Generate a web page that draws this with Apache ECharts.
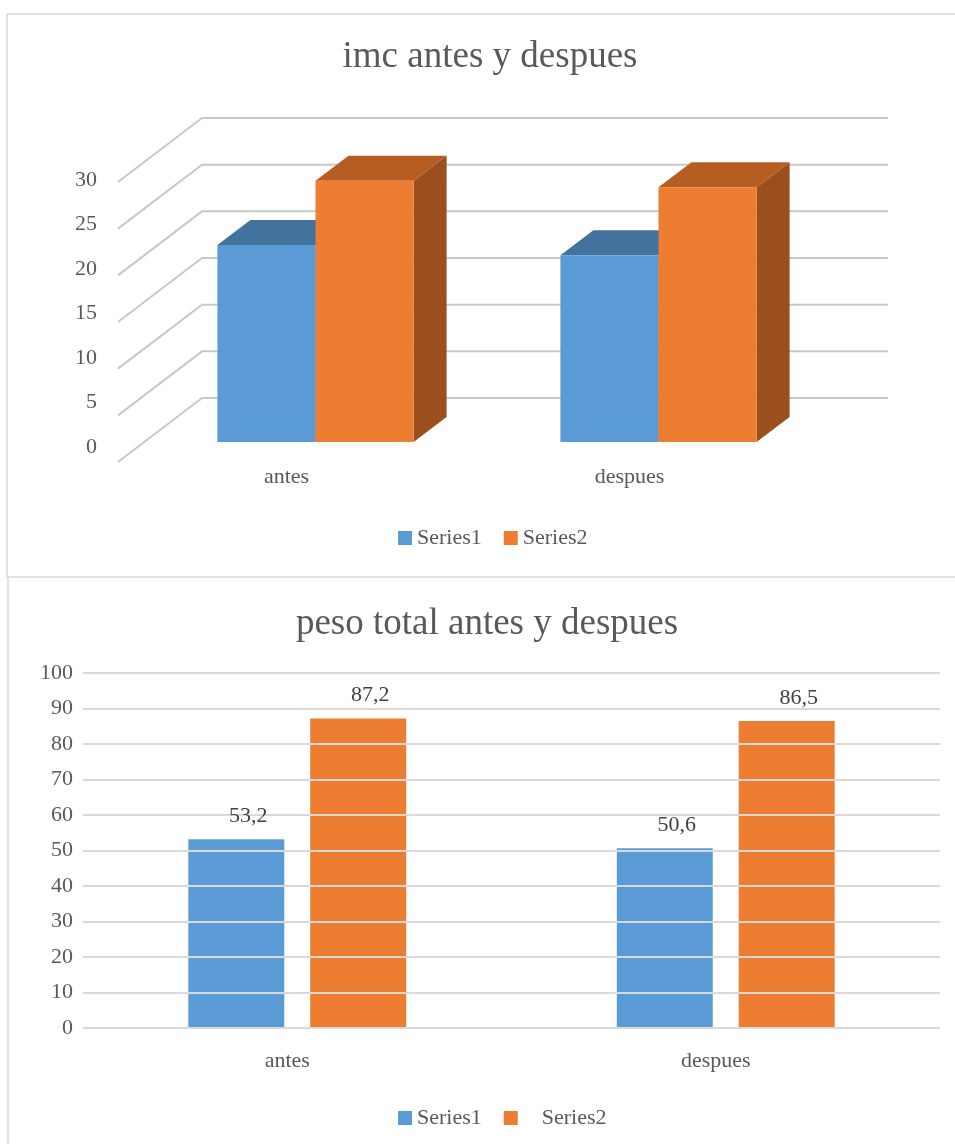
<!DOCTYPE html>
<html>
<head>
<meta charset="utf-8">
<title>imc y peso antes y despues</title>
<script src="https://cdn.jsdelivr.net/npm/echarts/dist/echarts.min.js"></script>
<style>
  html, body { margin: 0; padding: 0; background: #ffffff; }
  #imc  { position: absolute; left: 0; top: 0;     width: 955px; height: 578px; }
  #peso { position: absolute; left: 0; top: 578px; width: 955px; height: 566px; }
</style>
</head>
<body>
<div id="imc"></div>
<div id="peso"></div>
<script>
// ---- data ----
const categories = ['antes', 'despues'];
const seriesNames = ['Series1', 'Series2'];

const imcSeries1 = [21.1, 20.0];
const imcSeries2 = [28.0, 27.3];
const imcTicks = [0, 5, 10, 15, 20, 25, 30];

const pesoSeries1 = [53.2, 50.6];
const pesoSeries2 = [87.2, 86.5];
const pesoTicks = [0, 10, 20, 30, 40, 50, 60, 70, 80, 90, 100];

// ---- styling ----
const FONT = "'Liberation Serif', 'Times New Roman', serif";
const TEXT = '#595959';
const BLUE = { front: '#5B9BD5', top: '#44729F', side: '#3A6690' };
const ORANGE = { front: '#ED7D31', top: '#B65D22', side: '#9B4F1C' };

// oblique projection of the 3D column chart (pixel offsets from the bars' front plane)
const DEPTH = { dx: 33, dy: -25 };       // bar depth
const WALL_FRONT = { dx: -26, dy: 20 };  // front edge of the floor
const WALL_BACK = { dx: 58, dy: -44 };   // back wall
const BAR_FRACTION = 0.286;              // width of one bar relative to a category

// ---------- 3D IMC chart ----------
function wallItem(params, api) {
  const v = api.value(1);
  const y = api.coord([0, v])[1];
  const cs = params.coordSys;
  const x0 = cs.x, x1 = cs.x + cs.width;
  return {
    type: 'polyline',
    silent: true,
    shape: { points: [
      [x0 + WALL_FRONT.dx, y + WALL_FRONT.dy],
      [x0 + WALL_BACK.dx, y + WALL_BACK.dy],
      [x1 + WALL_BACK.dx, y + WALL_BACK.dy]
    ] },
    style: { stroke: '#c8c8c8', lineWidth: 2, fill: null }
  };
}

function boxRenderer(side, colors) {
  return function (params, api) {
    const c = api.value(0), v = api.value(1);
    const base = api.coord([c, 0]);
    const top = api.coord([c, v]);
    const w = api.size([1, 0])[0] * BAR_FRACTION;
    const xL = side < 0 ? base[0] - w : base[0];
    const xR = xL + w;
    const yB = base[1], yT = top[1];
    const d = DEPTH;
    return {
      type: 'group',
      children: [
        { type: 'polygon', shape: { points: [[xR, yT], [xR + d.dx, yT + d.dy], [xR + d.dx, yB + d.dy], [xR, yB]] },
          style: { fill: colors.side } },
        { type: 'polygon', shape: { points: [[xL, yT], [xR, yT], [xR + d.dx, yT + d.dy], [xL + d.dx, yT + d.dy]] },
          style: { fill: colors.top } },
        { type: 'rect', shape: { x: xL, y: yT, width: w, height: yB - yT },
          style: { fill: colors.front } }
      ]
    };
  };
}

// tick labels sit a little below the front plane, more so towards the top
const imcMax = imcTicks[imcTicks.length - 1];
const imcRich = {};
imcTicks.forEach(function (t, i) {
  const shift = 5 + 13 * t / imcMax;
  imcRich['t' + i] = { fontFamily: FONT, fontSize: 22, color: TEXT, padding: [2 * shift, 0, 0, 0] };
});

const imcChart = echarts.init(document.getElementById('imc'), null, { renderer: 'canvas' });
imcChart.setOption({
  animation: false,
  graphic: [{
    type: 'rect', silent: true,
    shape: { x: 7, y: 14, width: 1000, height: 563 },
    style: { fill: null, stroke: '#d9d9d9', lineWidth: 1.5 }
  }],
  title: {
    text: 'imc antes y despues',
    left: 485, top: 34, textAlign: 'center',
    textStyle: { fontFamily: FONT, fontSize: 37, fontWeight: 'normal', color: TEXT }
  },
  legend: {
    data: seriesNames, left: 393, top: 522, icon: 'rect',
    itemWidth: 14, itemHeight: 14, itemGap: 22, selectedMode: false,
    textStyle: { fontFamily: FONT, fontSize: 22, color: TEXT }
  },
  grid: { left: 144, right: 125, top: 162, bottom: 136 },
  xAxis: {
    type: 'category', data: categories,
    axisLine: { show: false }, axisTick: { show: false }, splitLine: { show: false },
    axisLabel: { margin: 24, padding: [0, 58, 0, 0], fontFamily: FONT, fontSize: 22, color: TEXT }
  },
  yAxis: {
    type: 'value', min: imcTicks[0], max: imcMax, interval: imcTicks[1] - imcTicks[0],
    axisLine: { show: false }, axisTick: { show: false }, splitLine: { show: false },
    axisLabel: {
      margin: 47,
      formatter: function (v) { return '{t' + imcTicks.indexOf(v) + '|' + v + '}'; },
      rich: imcRich
    }
  },
  series: [
    {
      type: 'custom', z: 1, silent: true,
      data: imcTicks.map(function (t) { return [0, t]; }),
      renderItem: wallItem
    },
    {
      type: 'custom', name: seriesNames[0], z: 2,
      itemStyle: { color: BLUE.front },
      data: imcSeries1.map(function (v, i) { return [i, v]; }),
      renderItem: boxRenderer(-1, BLUE)
    },
    {
      type: 'custom', name: seriesNames[1], z: 3,
      itemStyle: { color: ORANGE.front },
      data: imcSeries2.map(function (v, i) { return [i, v]; }),
      renderItem: boxRenderer(1, ORANGE)
    }
  ]
});

// ---------- peso chart ----------
function comma(p) { return p.value.toFixed(1).replace('.', ','); }
const valueLabel = {
  show: true, position: 'top', distance: 12, offset: [12, 0],
  formatter: comma, fontFamily: FONT, fontSize: 22, color: '#404040'
};
const barLayout = { barWidth: '22.4%', barGap: '27%' };

const pesoChart = echarts.init(document.getElementById('peso'), null, { renderer: 'canvas' });
pesoChart.setOption({
  animation: false,
  graphic: [{
    type: 'line', silent: true,
    shape: { x1: 8, y1: 0, x2: 8, y2: 566 },
    style: { stroke: '#d9d9d9', lineWidth: 1.5 }
  }],
  title: {
    text: 'peso total antes y despues',
    left: 482, top: 23, textAlign: 'center',
    textStyle: { fontFamily: FONT, fontSize: 37, fontWeight: 'normal', color: TEXT }
  },
  legend: {
    data: seriesNames, left: 393, top: 524, icon: 'rect',
    itemWidth: 14, itemHeight: 14, itemGap: 22, selectedMode: false,
    formatter: function (n) { return n === seriesNames[1] ? '{s2|' + n + '}' : n; },
    textStyle: {
      fontFamily: FONT, fontSize: 22, color: TEXT,
      rich: { s2: { fontFamily: FONT, fontSize: 22, color: TEXT, padding: [0, 0, 0, 19] } }
    }
  },
  grid: { left: 83, right: 15, top: 95, bottom: 116 },
  xAxis: [
    {
      type: 'category', data: categories,
      axisLine: { show: false }, axisTick: { show: false },
      axisLabel: { margin: 22, padding: [0, 20, 0, 0], fontFamily: FONT, fontSize: 22, color: TEXT }
    },
    { type: 'category', data: categories, show: false }
  ],
  yAxis: {
    type: 'value', min: pesoTicks[0], max: pesoTicks[pesoTicks.length - 1],
    interval: pesoTicks[1] - pesoTicks[0], z: 3,
    axisLine: { show: false }, axisTick: { show: false },
    splitLine: { lineStyle: { color: '#d9d9d9', width: 2 } },
    axisLabel: { margin: 10, fontFamily: FONT, fontSize: 22, color: TEXT }
  },
  series: [
    Object.assign({ type: 'bar', name: seriesNames[0], z: 2, data: pesoSeries1,
      itemStyle: { color: BLUE.front } }, barLayout),
    Object.assign({ type: 'bar', name: seriesNames[1], z: 2, data: pesoSeries2,
      itemStyle: { color: ORANGE.front } }, barLayout),
    // value labels, laid out like the bars but drawn above the gridlines
    Object.assign({ type: 'bar', name: seriesNames[0], xAxisIndex: 1, z: 4, silent: true, data: pesoSeries1,
      itemStyle: { color: 'rgba(0,0,0,0)' }, label: valueLabel }, barLayout),
    Object.assign({ type: 'bar', name: seriesNames[1], xAxisIndex: 1, z: 4, silent: true, data: pesoSeries2,
      itemStyle: { color: 'rgba(0,0,0,0)' }, label: valueLabel }, barLayout)
  ]
});
</script>
</body>
</html>
